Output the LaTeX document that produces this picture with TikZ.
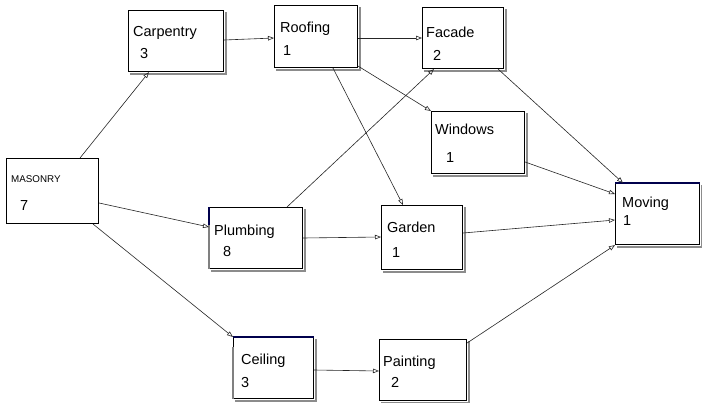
\documentclass[tikz,border=0pt]{standalone}
\usepackage{fontspec}
\setmainfont{Liberation Sans}
\usetikzlibrary{arrows.meta}
\begin{document}
\begin{tikzpicture}[x=1pt,y=-1pt,
  box/.style={draw=black,line width=1.1pt,fill=white,anchor=north west,inner sep=0pt},
  shade/.style={draw=black!45,line width=1.8pt},
  txt/.style={anchor=base west,inner sep=0pt,font=\fontsize{14.5}{17}\selectfont},
  small/.style={anchor=base west,inner sep=0pt,font=\fontsize{9.8}{11}\selectfont},
  conn/.style={draw=black!85,line width=0.6pt,-{Triangle[open,length=6pt,width=4.5pt]}}]
\fill[white] (0,0) rectangle (702,402);
\useasboundingbox (0,0) rectangle (702,402);
% boxes
\node[box,minimum width=95pt,minimum height=61pt] (carp) at (128,10) {};
\node[box,minimum width=83pt,minimum height=62pt] (roof) at (274,5) {};
\node[box,minimum width=81pt,minimum height=61pt] (fac) at (422,7) {};
\node[box,minimum width=93pt,minimum height=62pt] (win) at (431,111) {};
\node[box,minimum width=84pt,minimum height=61pt] (mov) at (615,183) {};
\node[box,minimum width=92pt,minimum height=65pt] (mas) at (6,158) {};
\node[box,minimum width=93pt,minimum height=61pt] (plu) at (209,207) {};
\node[box,minimum width=80pt,minimum height=61pt] (cei) at (233,337) {};
\node[box,minimum width=81pt,minimum height=64pt] (gar) at (381,205) {};
\node[box,minimum width=87pt,minimum height=61pt] (pai) at (379,339) {};
\foreach \n in {carp,roof,fac,win,mov,plu,cei,gar,pai}
  \draw[shade] ([xshift=1.6pt,yshift=-2pt]\n.north east) -- ([xshift=1.6pt,yshift=-1.6pt]\n.south east) -- ([xshift=2pt,yshift=-1.6pt]\n.south west);
\draw[draw=blue!30!black,line width=1.6pt] (mov.north west) -- (mov.north east);
\draw[draw=blue!30!black,line width=1.6pt] (cei.north west) -- (cei.north east);
\draw[draw=black!50,line width=1.6pt] ([yshift=-4pt]plu.north west) -- (plu.south west);
\draw[draw=black!50,line width=1.6pt] ([yshift=-10pt]cei.north west) -- (cei.south west);
\draw[draw=blue!30!black,line width=1.6pt] (plu.north west) -- ([yshift=-18pt]plu.north west);
% texts
\node[txt] (carpT) at (133,36) {Carpentry};
\node[txt] (carpN) at (140,58) {3};
\node[txt] (roofT) at (280,32) {Roofing};
\node[txt] (roofN) at (283,55) {1};
\node[txt] (facT) at (426,37) {Facade};
\node[txt] (facN) at (433,60) {2};
\node[txt] (winT) at (435,134) {Windows};
\node[txt] (winN) at (446,162) {1};
\node[txt] (movT) at (622,207) {Moving};
\node[txt] (movN) at (623,225) {1};
\node[small] (masT) at (11,182) {MASONRY};
\node[txt] (masN) at (20,210) {7};
\node[txt] (pluT) at (214,235) {Plumbing};
\node[txt] (pluN) at (223,256) {8};
\node[txt] (ceiT) at (241,364) {Ceiling};
\node[txt] (ceiN) at (241,387) {3};
\node[txt] (garT) at (387,232) {Garden};
\node[txt] (garN) at (392,257) {1};
\node[txt] (paiT) at (383,366) {Painting};
\node[txt] (paiN) at (391,387) {2};
% connectors
\draw[conn] ([xshift=74pt]mas.north west) -- ([xshift=21pt]carp.south west);
\draw[conn] ([yshift=-30pt]carp.north east) -- ([yshift=-33pt]roof.north west);
\draw[conn] ([yshift=-33pt]roof.north east) -- ([yshift=-31pt]fac.north west);
\draw[conn] ([yshift=2pt]roof.south east) -- (win.north west);
\draw[conn] ([xshift=59pt]roof.south west) -- ([xshift=22pt]gar.north west);
\draw[conn] ([xshift=78pt]plu.north west) -- ([xshift=12pt]fac.south west);
\draw[conn] ([xshift=-6pt]fac.south east) -- ([xshift=8pt]mov.north west);
\draw[conn] ([yshift=-51pt]win.north east) -- ([yshift=-11pt]mov.north west);
\draw[conn] ([yshift=-28pt]gar.north east) -- ([yshift=-37pt]mov.north west);
\draw[conn] ([yshift=-4pt]pai.north east) -- (mov.south west);
\draw[conn] ([yshift=-45pt]mas.north east) -- ([yshift=-20pt]plu.north west);
\draw[conn] ([xshift=-6pt]mas.south east) -- (cei.north west);
\draw[conn] ([yshift=-31pt]plu.north east) -- ([yshift=-32pt]gar.north west);
\draw[conn] ([yshift=-33pt]cei.north east) -- ([yshift=-32pt]pai.north west);
\end{tikzpicture}
\end{document}
